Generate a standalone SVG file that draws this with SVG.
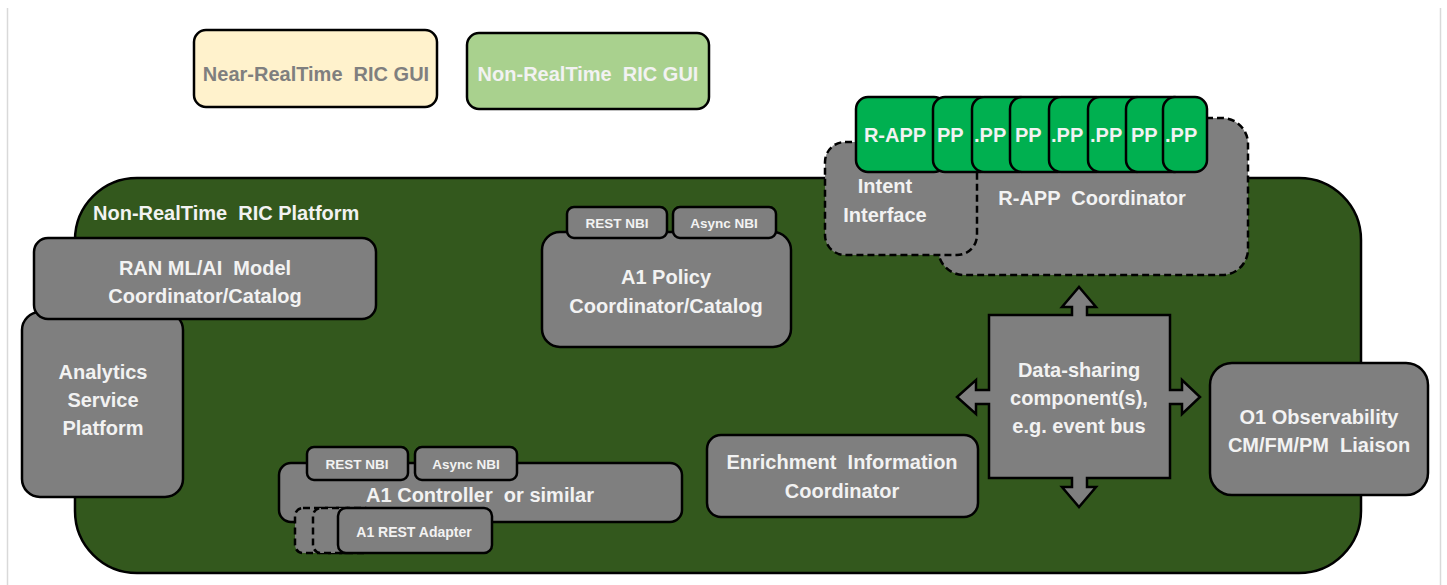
<svg xmlns="http://www.w3.org/2000/svg" width="1447" height="585" viewBox="0 0 1447 585">
<style>
.box{fill:#7f7f7f;stroke:#000;stroke-width:2.5}
.dash{fill:#7f7f7f;stroke:#000;stroke-width:2.5;stroke-dasharray:7 4}
.app{fill:#00b050;stroke:#000;stroke-width:2.5}
.t{font-family:"Liberation Sans",Arial,sans-serif;font-weight:bold;font-size:20px;fill:#f2f2f2;text-anchor:middle;white-space:pre}
.s{font-size:13.5px}
.m{font-size:14px}
.l{text-anchor:start}
</style>
<rect x="0" y="0" width="1447" height="585" fill="#fff"/>
<line x1="7.5" y1="8" x2="7.5" y2="585" stroke="#d9d9d9" stroke-width="1.5"/>
<line x1="1440.5" y1="8" x2="1440.5" y2="585" stroke="#d9d9d9" stroke-width="1.5"/>

<g id="near-rt-gui">
<rect x="194" y="30" width="243" height="77" rx="12" fill="#fff2cc" stroke="#000" stroke-width="2.5"/>
<text class="t" x="316" y="81" style="fill:#7f7f7f">Near-RealTime  RIC GUI</text>
</g>
<g id="non-rt-gui">
<rect x="467" y="33" width="242" height="76" rx="12" fill="#a9d18e" stroke="#000" stroke-width="2.5"/>
<text class="t" x="588" y="81">Non-RealTime  RIC GUI</text>
</g>

<g id="platform">
<rect x="75" y="178" width="1286" height="395" rx="62" fill="#33581d" stroke="#000" stroke-width="2.5"/>
<text class="t l" x="93" y="220">Non-RealTime  RIC Platform</text>
</g>

<g id="analytics">
<rect class="box" x="22" y="312" width="161" height="185" rx="18"/>
<text class="t" x="103" y="379">Analytics</text>
<text class="t" x="103" y="407">Service</text>
<text class="t" x="103" y="435">Platform</text>
</g>
<g id="ran-ml">
<rect class="box" x="34" y="238" width="342" height="81" rx="14"/>
<text class="t" x="205" y="275">RAN ML/AI  Model</text>
<text class="t" x="205" y="303">Coordinator/Catalog</text>
</g>

<g id="a1-policy">
<rect class="box" x="542" y="232" width="249" height="115" rx="18"/>
<rect class="box" x="567" y="207" width="100" height="31" rx="7"/>
<text class="t s" x="617" y="228">REST NBI</text>
<rect class="box" x="673" y="207" width="103" height="31" rx="7"/>
<text class="t s" x="724" y="228">Async NBI</text>
<text class="t" x="666" y="284">A1 Policy</text>
<text class="t" x="666" y="313">Coordinator/Catalog</text>
</g>

<g id="a1-controller">
<rect class="box" x="279" y="463" width="403" height="59" rx="12"/>
<rect class="box" x="307" y="447" width="101" height="33" rx="7"/>
<text class="t s" x="357" y="469">REST NBI</text>
<rect class="box" x="415" y="447" width="102" height="33" rx="7"/>
<text class="t s" x="466" y="469">Async NBI</text>
<text class="t" x="480" y="502">A1 Controller  or similar</text>
</g>
<g id="a1-rest-adapter">
<rect class="dash" x="295" y="508" width="60" height="45" rx="8"/>
<rect class="dash" x="313" y="508" width="60" height="45" rx="8"/>
<rect class="box" x="338" y="508" width="154" height="45" rx="8"/>
<text class="t m" x="414" y="537">A1 REST Adapter</text>
</g>

<g id="enrichment">
<rect class="box" x="707" y="435" width="271" height="82" rx="14"/>
<text class="t" x="842" y="469">Enrichment  Information</text>
<text class="t" x="842" y="498">Coordinator</text>
</g>

<g id="data-sharing">
<path class="box" d="M989,315 L1072,315 L1072,307 L1062,307 L1079,287 L1096,307 L1087,307 L1087,315 L1170,315 L1170,390 L1182,390 L1182,380 L1200,397 L1182,414 L1182,404 L1170,404 L1170,478 L1087,478 L1087,487 L1096,487 L1079,507 L1062,487 L1072,487 L1072,478 L989,478 L989,404 L976,404 L976,414 L957,397 L976,380 L976,390 L989,390 Z"/>
<text class="t" x="1079" y="377">Data-sharing</text>
<text class="t" x="1079" y="405">component(s),</text>
<text class="t" x="1079" y="433">e.g. event bus</text>
</g>

<g id="o1-observability">
<rect class="box" x="1210" y="363" width="218" height="132" rx="22"/>
<text class="t" x="1319" y="424">O1 Observability</text>
<text class="t" x="1319" y="452">CM/FM/PM  Liaison</text>
</g>

<g id="rapp-coordinator">
<rect class="dash" x="938" y="118" width="310" height="157" rx="26"/>
<text class="t" x="1092" y="205">R-APP  Coordinator</text>
</g>
<g id="intent-interface">
<rect class="dash" x="825" y="142" width="152" height="113" rx="20"/>
<text class="t" x="885" y="193">Intent</text>
<text class="t" x="885" y="222">Interface</text>
</g>

<g id="rapps">
<rect class="app" x="856" y="97" width="90" height="75" rx="12"/>
<text class="t" x="895" y="142">R-APP</text>
<rect class="app" x="933" y="97" width="60" height="75" rx="12"/>
<text class="t l" x="937" y="142">PP</text>
<rect class="app" x="972" y="97" width="60" height="75" rx="12"/>
<text class="t l" x="974" y="142">.PP</text>
<rect class="app" x="1010" y="97" width="60" height="75" rx="12"/>
<text class="t l" x="1015" y="142">PP</text>
<rect class="app" x="1049" y="97" width="60" height="75" rx="12"/>
<text class="t l" x="1051" y="142">.PP</text>
<rect class="app" x="1088" y="97" width="60" height="75" rx="12"/>
<text class="t l" x="1090" y="142">.PP</text>
<rect class="app" x="1126" y="97" width="60" height="75" rx="12"/>
<text class="t l" x="1131" y="142">PP</text>
<rect class="app" x="1163" y="97" width="44" height="75" rx="12"/>
<text class="t l" x="1165" y="142">.PP</text>
</g>

<g id="connectors"></g>
</svg>
